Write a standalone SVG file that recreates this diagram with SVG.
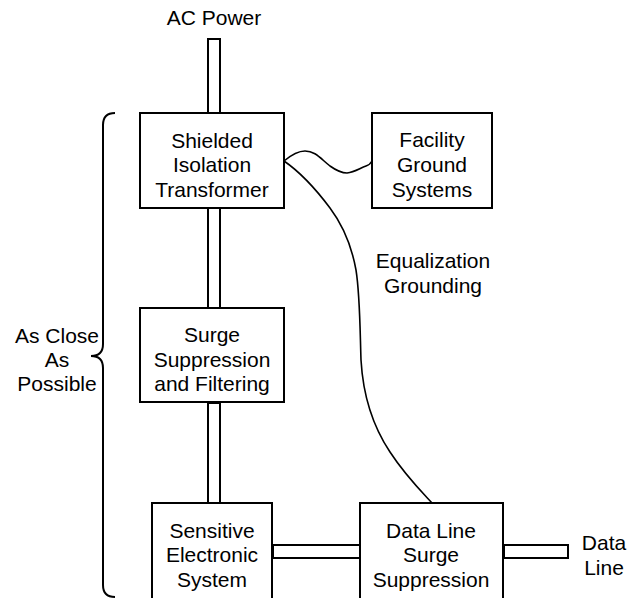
<svg xmlns="http://www.w3.org/2000/svg" width="633" height="598" viewBox="0 0 633 598">
  <style>
    .box { fill: #ffffff; stroke: #000000; stroke-width: 2; }
    .cond { fill: #ffffff; stroke: #000000; stroke-width: 2; }
    .wire { fill: none; stroke: #000000; stroke-width: 1.6; stroke-linejoin: round; stroke-linecap: round; }
    .brace { fill: none; stroke: #000000; stroke-width: 2; }
    text { font-family: "Liberation Sans", Arial, sans-serif; font-size: 21px; fill: #000000; text-anchor: middle; }
  </style>

  <!-- power and data conductors (double-line bars) and ground wires -->
  <g id="connectors">
    <rect class="cond" x="208" y="39" width="12" height="74"/>
    <rect class="cond" x="208" y="208" width="12" height="100"/>
    <rect class="cond" x="208" y="403" width="12" height="100"/>
    <rect class="cond" x="273" y="545" width="87" height="13"/>
    <rect class="cond" x="504" y="545" width="64" height="13"/>
    <!-- ground wire to facility ground -->
    <path class="wire" d="M284,161 C290,156 297,151 305,151 C315,151 320,158 330,166 C337,171 342,173 347,173 C355,172 360,168 366,166 C369,165 371,163 372,161"/>
    <!-- equalization grounding wire -->
    <path class="wire" d="M284,161 C300,172 318,192 330,208 C345,228 352,248 356,270 C360,295 360,330 361,360 C363,395 372,425 390,452 C405,475 420,490 432,503"/>
  </g>

  <g id="ac-power">
    <text x="214" y="25">AC Power</text>
  </g>

  <g id="transformer">
    <rect class="box" x="140" y="113" width="144" height="95"/>
    <text x="212" y="148">Shielded</text>
    <text x="212" y="172">Isolation</text>
    <text x="212" y="197">Transformer</text>
  </g>

  <g id="facility-ground">
    <rect class="box" x="372" y="113" width="120" height="95"/>
    <text x="432" y="147">Facility</text>
    <text x="432" y="172">Ground</text>
    <text x="432" y="197">Systems</text>
  </g>

  <g id="equalization-label">
    <text x="433" y="268">Equalization</text>
    <text x="433" y="293">Grounding</text>
  </g>

  <g id="surge-filter">
    <rect class="box" x="140" y="308" width="144" height="94"/>
    <text x="212" y="342">Surge</text>
    <text x="212" y="367">Suppression</text>
    <text x="212" y="391">and Filtering</text>
  </g>

  <g id="sensitive-system">
    <rect class="box" x="152" y="503" width="120" height="110"/>
    <text x="212" y="538">Sensitive</text>
    <text x="212" y="562">Electronic</text>
    <text x="212" y="587">System</text>
  </g>

  <g id="data-line-surge">
    <rect class="box" x="360" y="503" width="143" height="110"/>
    <text x="431" y="538">Data Line</text>
    <text x="431" y="562">Surge</text>
    <text x="431" y="587">Suppression</text>
  </g>

  <g id="data-line">
    <text x="604" y="550">Data</text>
    <text x="604" y="575">Line</text>
  </g>

  <g id="proximity-brace">
    <path class="brace" d="M115,113 Q103,113 103,125 L103,344 Q103,356 91,356 Q103,356 103,368 L103,585 Q103,597 115,597"/>
    <text x="57" y="343">As Close</text>
    <text x="57" y="367">As</text>
    <text x="57" y="391">Possible</text>
  </g>
</svg>
